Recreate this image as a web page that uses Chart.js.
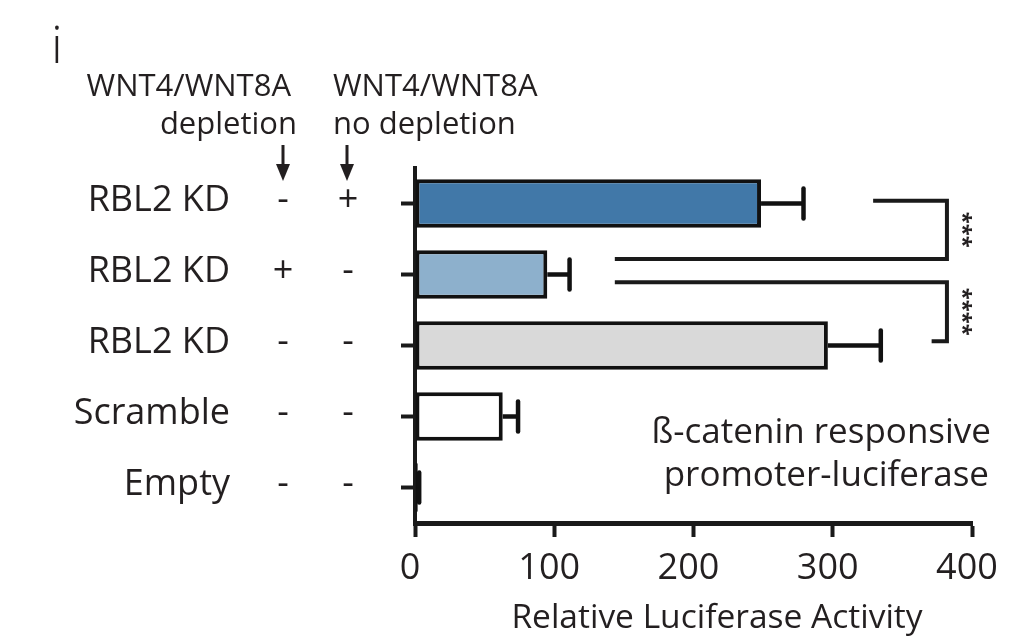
<!DOCTYPE html>
<html><head><meta charset="utf-8">
<script src="https://cdn.jsdelivr.net/npm/chart.js@4.4.1/dist/chart.umd.min.js"></script>
<style>html,body{margin:0;padding:0;background:#fff}canvas{display:block}</style>
</head><body>
<canvas id="c" width="1034" height="643"></canvas>
<script>
const categories = ['RBL2 KD','RBL2 KD','RBL2 KD','Scramble','Empty'];
const depletionSigns = ['-','+','-','-','-'];
const noDepletionSigns = ['+','-','-','-','-'];
const values = [248.5, 95, 296.5, 63, 2];
const errors = [30.5, 16, 38, 11, 1];
const barColors = ['#4178a8','#8db0cc','#d9d9d9','#ffffff','#ffffff'];
const xTicks = [0, 100, 200, 300, 400];
const xTitle = 'Relative Luciferase Activity';
const headerLeft = ['WNT4/WNT8A','depletion'];
const headerRight = ['WNT4/WNT8A','no depletion'];
const noteLines = ['ß-catenin responsive','promoter-luciferase'];
const panelLabel = 'i';
// significance brackets in data units (x value, category index)
const bracketTopX = [329, 143.5];
const bracketBottomX = [143.5, 371];
const bracketRightX = [382, 382];
const bracketTopIdx = [-0.04, 1.11];
const bracketBottomIdx = [0.78, 1.94];
const sigLabels = ['***','****'];

const INK = '#231f20';
const FONT = '"Open Sans", "DejaVu Sans", sans-serif';

const overlay = {
  id: 'overlay',
  afterDatasetsDraw(chart) {
    const {ctx, scales:{x, y}} = chart;
    ctx.save();
    ctx.strokeStyle = '#111';
    ctx.lineWidth = 4.5;
    ctx.lineCap = 'butt';
    values.forEach((v, i) => {
      const yc = y.getPixelForValue(i);
      const x0 = x.getPixelForValue(v);
      const x1 = x.getPixelForValue(v + errors[i]);
      ctx.beginPath();
      ctx.moveTo(x0, yc); ctx.lineTo(x1, yc);
      ctx.stroke();
      ctx.lineCap = 'round';
      ctx.beginPath();
      ctx.moveTo(x1, yc - 15); ctx.lineTo(x1, yc + 15);
      ctx.stroke();
      ctx.lineCap = 'butt';
    });
    ctx.restore();
  },
  afterDraw(chart) {
    const {ctx, scales:{x, y}} = chart;
    ctx.save();
    ctx.fillStyle = INK;
    // row labels and signs
    ctx.font = '36px ' + FONT;
    ctx.textBaseline = 'alphabetic';
    categories.forEach((c, i) => {
      const yb = y.getPixelForValue(i) + 7;
      ctx.textAlign = 'right';
      ctx.fillText(c, 230, yb);
      ctx.textAlign = 'center';
      ctx.fillText(depletionSigns[i], 283, yb);
      ctx.fillText(noDepletionSigns[i], 348, yb);
    });
    // headers
    ctx.font = '31px ' + FONT;
    ctx.textAlign = 'right';
    ctx.fillText(headerLeft[0], 291, 96);
    ctx.fillText(headerLeft[1], 297, 134);
    ctx.textAlign = 'left';
    ctx.fillText(headerRight[0], 333, 96);
    ctx.fillText(headerRight[1], 333, 134);
    // arrows
    ctx.strokeStyle = INK;
    ctx.lineWidth = 3;
    [283, 347].forEach(ax => {
      ctx.beginPath();
      ctx.moveTo(ax, 145); ctx.lineTo(ax, 170);
      ctx.stroke();
      ctx.beginPath();
      ctx.moveTo(ax - 7, 164); ctx.lineTo(ax + 7, 164); ctx.lineTo(ax, 181); ctx.closePath();
      ctx.fill();
    });
    // note
    ctx.font = '35px ' + FONT;
    ctx.textAlign = 'right';
    ctx.fillText(noteLines[0], 991, 443);
    ctx.fillText(noteLines[1], 989, 486);
    // x title
    ctx.font = '33.5px ' + FONT;
    ctx.textAlign = 'center';
    ctx.fillText(xTitle, 717, 628);
    // panel label
    ctx.font = '300 52px ' + FONT;
    ctx.textAlign = 'center';
    ctx.fillText(panelLabel, 57, 63);
    // brackets
    ctx.strokeStyle = '#1a1a1a';
    ctx.lineWidth = 4;
    ctx.lineJoin = 'miter';
    sigLabels.forEach((lab, k) => {
      const yt = y.getPixelForValue(bracketTopIdx[k]);
      const yb = y.getPixelForValue(bracketBottomIdx[k]);
      const xr = x.getPixelForValue(bracketRightX[k]);
      ctx.beginPath();
      ctx.moveTo(x.getPixelForValue(bracketTopX[k]), yt);
      ctx.lineTo(xr, yt);
      ctx.lineTo(xr, yb);
      ctx.lineTo(x.getPixelForValue(bracketBottomX[k]), yb);
      ctx.stroke();
      ctx.save();
      ctx.translate(xr + 7, (yt + yb) / 2);
      ctx.rotate(Math.PI / 2);
      ctx.font = 'bold 22px ' + FONT;
      ctx.textAlign = 'center';
      ctx.textBaseline = 'alphabetic';
      ctx.fillText(lab, 0, -2);
      ctx.restore();
    });
    ctx.restore();
  }
};

new Chart(document.getElementById('c'), {
  type: 'bar',
  data: {
    labels: categories,
    datasets: [{
      data: values,
      backgroundColor: barColors,
      borderColor: '#111',
      borderWidth: 4,
      borderSkipped: false,
      barPercentage: 0.68,
      categoryPercentage: 1
    }]
  },
  options: {
    indexAxis: 'y',
    responsive: false,
    animation: false,
    layout: { padding: { top: 168, right: 62, left: 0, bottom: 0 } },
    plugins: { legend: { display: false }, tooltip: { enabled: false } },
    scales: {
      x: {
        min: 0, max: 400,
        afterBuildTicks: s => { s.ticks = xTicks.map(v => ({ value: v })); },
        afterFit: s => { s.height = 120; },
        ticks: { font: { family: FONT, size: 36 }, color: INK, padding: 10, maxRotation: 0, labelOffset: -5 },
        grid: { drawOnChartArea: false, tickLength: 14, tickWidth: 4, color: '#1a1a1a' },
        border: { width: 5, color: '#1a1a1a' },
        title: { display: false, text: xTitle }
      },
      y: {
        afterFit: s => { s.width = 415; },
        ticks: { display: false },
        grid: { offset: false, drawOnChartArea: false, tickLength: 14, tickWidth: 4, color: '#1a1a1a' },
        border: { width: 4, color: '#1a1a1a' }
      }
    }
  },
  plugins: [overlay]
});
</script>
</body></html>
